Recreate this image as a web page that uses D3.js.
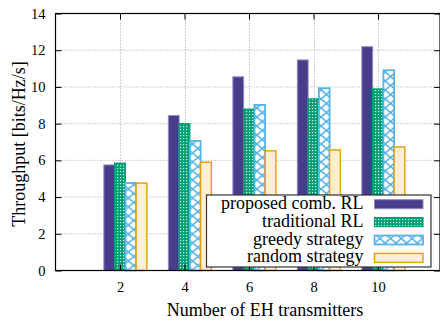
<!DOCTYPE html>
<html>
<head>
<meta charset="utf-8">
<script src="https://cdn.jsdelivr.net/npm/d3@7"></script>
<style>
  body { margin: 0; background: #fff; }
  svg text { font-family: "Liberation Serif", "DejaVu Serif", serif; }
</style>
</head>
<body>
<svg id="chart" width="440" height="325"></svg>
<script>
// data
var transmitters = [2, 4, 6, 8, 10];
var seriesNames = ["proposed comb. RL", "traditional RL", "greedy strategy", "random strategy"];
var proposedRL = [5.75, 8.44, 10.55, 11.47, 12.19];
var traditionalRL = [5.85, 8.0, 8.79, 9.35, 9.89];
var greedy = [4.77, 7.06, 9.02, 9.93, 10.91];
var random = [4.76, 5.9, 6.52, 6.57, 6.73];
var yTicks = [0, 2, 4, 6, 8, 10, 12, 14];

var series = [proposedRL, traditionalRL, greedy, random];

var svg = d3.select("#chart"),
    MARGINS = { top: 13.5, left: 55.5, bottom: 270.5, right: 442.5 };

var xScale = d3.scaleLinear().domain([0, 12]).range([MARGINS.left, MARGINS.right]);
var yScale = d3.scaleLinear().domain([0, 14]).range([MARGINS.bottom, MARGINS.top]);

// fill patterns
var defs = svg.append("defs");
var pg = defs.append("pattern").attr("id", "checker")
    .attr("patternUnits", "userSpaceOnUse").attr("width", 3).attr("height", 3);
pg.append("rect").attr("width", 3).attr("height", 3).attr("fill", "#009e73");
pg.append("rect").attr("x", 0).attr("y", 0).attr("width", 1.2).attr("height", 1.2).attr("fill", "#d9f2e8");

var pb = defs.append("pattern").attr("id", "cross")
    .attr("patternUnits", "userSpaceOnUse").attr("width", 10.7).attr("height", 9);
pb.append("rect").attr("width", 10.7).attr("height", 9).attr("fill", "#fff");
pb.append("path").attr("d", "M0,0L10.7,9M10.7,0L0,9")
    .attr("stroke", "#56b4e9").attr("stroke-width", 1.6).attr("fill", "none");

var styles = [
  { fill: "#483d8b", stroke: "#9088c0", sw: 1 },
  { fill: "url(#checker)", stroke: "#009e73", sw: 1.2 },
  { fill: "url(#cross)", stroke: "#56b4e9", sw: 1.8 },
  { fill: "#fcefd6", stroke: "#e69f00", sw: 1.4 }
];

// grid
svg.append("g").selectAll("line").data(yTicks.slice(1, -1)).enter().append("line")
    .attr("x1", MARGINS.left).attr("x2", 440)
    .attr("y1", function (d) { return yScale(d); })
    .attr("y2", function (d) { return yScale(d); })
    .attr("stroke", "#a0a0a0").attr("stroke-width", 1).attr("stroke-dasharray", "1,2");
svg.append("g").selectAll("line").data(transmitters).enter().append("line")
    .attr("x1", function (d) { return Math.round(xScale(d)) + 0.5; })
    .attr("x2", function (d) { return Math.round(xScale(d)) + 0.5; })
    .attr("y1", MARGINS.top).attr("y2", MARGINS.bottom)
    .attr("stroke", "#a0a0a0").attr("stroke-width", 1).attr("stroke-dasharray", "1,2");

// bars
var bw = 1 / 3;
series.forEach(function (vals, i) {
  svg.append("g").selectAll("rect").data(vals).enter().append("rect")
      .attr("x", function (d, j) { return xScale(transmitters[j] + (i - 1.5) * bw); })
      .attr("width", xScale(bw) - xScale(0))
      .attr("y", function (d) { return yScale(d); })
      .attr("height", function (d) { return yScale(0) - yScale(d); })
      .attr("fill", styles[i].fill)
      .attr("stroke", styles[i].stroke)
      .attr("stroke-width", styles[i].sw);
});

// axes, ticks point inward and are mirrored
var yAxis = d3.axisLeft(yScale).tickValues(yTicks).tickSize(-6).tickPadding(10);
svg.append("g").attr("transform", "translate(" + MARGINS.left + ",0)").call(yAxis);
var yAxisR = d3.axisRight(yScale).tickValues(yTicks).tickSize(-6).tickFormat("");
svg.append("g").attr("transform", "translate(440,0)").call(yAxisR);

var xAxis = d3.axisBottom(xScale).tickValues(transmitters).tickSize(-6).tickPadding(11);
svg.append("g").attr("transform", "translate(0," + MARGINS.bottom + ")").call(xAxis);
var xAxisT = d3.axisTop(xScale).tickValues(transmitters).tickSize(-6).tickFormat("");
svg.append("g").attr("transform", "translate(0," + MARGINS.top + ")").call(xAxisT);

svg.selectAll(".domain").remove();
svg.selectAll(".tick line").attr("stroke", "#000");
svg.selectAll(".tick text").attr("font-size", 14.5).attr("fill", "#000");

// frame
svg.append("rect")
    .attr("x", MARGINS.left).attr("y", MARGINS.top)
    .attr("width", 440 - MARGINS.left).attr("height", MARGINS.bottom - MARGINS.top)
    .attr("fill", "none").attr("stroke", "#000").attr("stroke-width", 1.2);

// legend
var lg = svg.append("g");
lg.append("rect").attr("x", 206.5).attr("y", 195).attr("width", 224.5).attr("height", 72)
    .attr("fill", "#fff").attr("stroke", "#333").attr("stroke-width", 1.2);
seriesNames.forEach(function (name, i) {
  var cy = 204.2 + i * 17.9;
  lg.append("text").attr("x", 363.5).attr("y", cy + 4.5).attr("text-anchor", "end")
      .attr("font-size", 18).text(name);
  lg.append("rect").attr("x", 374.5).attr("y", cy - 4.5).attr("width", 48.5).attr("height", 9)
      .attr("fill", styles[i].fill).attr("stroke", styles[i].stroke).attr("stroke-width", styles[i].sw);
});

// axis titles
svg.append("text").attr("x", 265).attr("y", 316).attr("text-anchor", "middle")
    .attr("font-size", 18).text("Number of EH transmitters");
svg.append("text").attr("transform", "translate(24.5,144) rotate(-90)")
    .attr("text-anchor", "middle").attr("font-size", 18).text("Throughput [bits/Hz/s]");
</script>
</body>
</html>
